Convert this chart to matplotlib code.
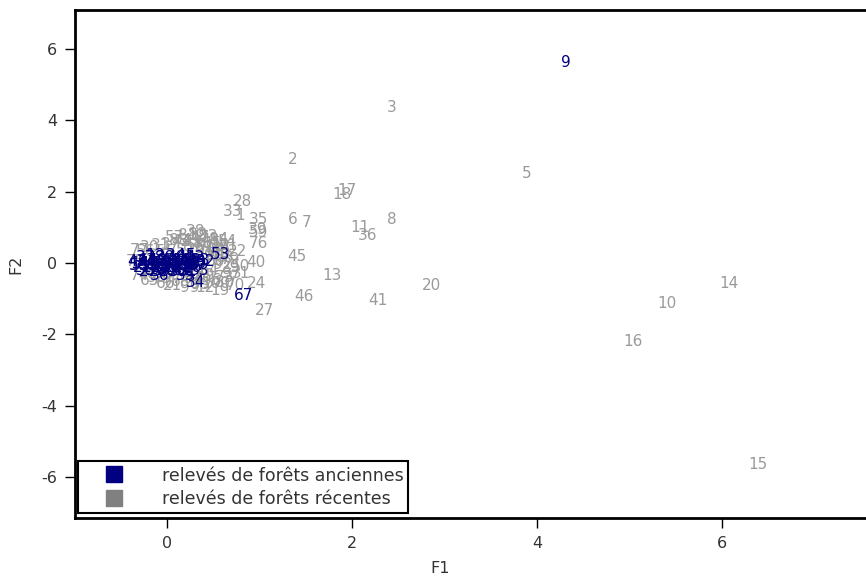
import matplotlib
matplotlib.use("Agg")
import matplotlib.pyplot as plt
from matplotlib.lines import Line2D

plt.rcParams['font.family'] = ['DejaVu Sans']
plt.rcParams['axes.unicode_minus'] = False

# relevés de forêts récentes (grey)
rec_lab = ['3', '2', '5', '18', '17', '28', '33', '1', '35', '6', '7', '11', '36', '8',
           '39', '59', '76', '45', '40', '13', '20', '46', '41', '24', '27', '14', '10',
           '16', '15', '38', '22', '54', '21', '50', '73', '19', '12', '29',
           '30', '31', '37', '42', '43', '47', '48', '49', '51', '52', '55', '56', '57',
           '58', '60', '61', '62', '63', '64', '65', '66', '68', '69', '70', '71', '72',
           '74', '75', '77', '78', '79', '80',
           '81', '82', '83', '84', '85', '86', '87', '88', '89', '90', '91', '92', '93',
           '94', '95', '96', '97', '98', '99', '100']
rec_x = [2.43, 1.36, 3.89, 1.89, 1.94, 0.81, 0.70, 0.79, 0.98, 1.36, 1.51, 2.08, 2.17, 2.43,
         0.98, 0.99, 0.98, 1.40, 0.96, 1.78, 2.86, 1.48, 2.28, 0.96, 1.05, 6.07, 5.40,
         5.04, 6.39, 0.30, 0.76, 0.65, 0.05, 0.79, 0.62, 0.57, 0.41, 0.68,
         -0.19, -0.08, 0.03, 0.14, 0.25, 0.35, 0.46, 0.57, 0.41, 0.19, -0.02, -0.24, 0.08,
         0.30, 0.52, 0.66, 0.52, 0.62, 0.46, -0.19, -0.02, 0.14, 0.41, 0.73, 0.79, 0.30,
         -0.30, -0.35, -0.30, 0.57, 0.68, 0.62,
         0.22, 0.33, 0.44, 0.55, 0.48, 0.38, 0.27, 0.12, 0.58, 0.50, 0.40, 0.60, 0.70,
         0.28, 0.36, 0.48, 0.05, -0.12, 0.24, 0.52]
rec_y = [4.35, 2.89, 2.50, 1.91, 2.02, 1.71, 1.43, 1.32, 1.21, 1.23, 1.12, 0.98, 0.76, 1.21,
         0.95, 0.84, 0.55, 0.17, 0.00, -0.36, -0.62, -0.93, -1.04, -0.59, -1.32, -0.59, -1.15,
         -2.19, -5.66, 0.87, 0.31, 0.59, -0.62, -0.10, -0.42, -0.76, -0.70, -0.14,
         0.42, 0.48, 0.53, 0.59, 0.64, 0.70, 0.64, 0.50, 0.42, 0.36, 0.31, 0.31, 0.70,
         0.50, 0.03, 0.48, 0.36, 0.14, -0.20, -0.48, -0.59, -0.53, -0.35, -0.64, -0.31, -0.36,
         -0.36, 0.03, 0.36, 0.20, 0.10, -0.55,
         0.78, 0.80, 0.75, 0.66, 0.55, 0.55, 0.45, 0.62, 0.30, 0.22, 0.28, -0.05, -0.30,
         -0.45, -0.60, -0.50, -0.45, -0.40, -0.70, -0.58]

# relevés de forêts anciennes (navy)
anc_lab = ['9', '53', '34', '67',
           '1', '2', '3', '4', '5', '6', '7', '8', '10', '11', '12', '13', '14', '15',
           '16', '17', '18', '19', '20', '21', '22', '23', '24', '25', '26', '27', '28',
           '29', '30', '31', '32', '33', '35', '36',
           '37', '38', '39', '40', '41', '42', '43', '44', '45', '46', '47', '48', '49',
           '50', '51', '52', '54', '55', '56', '57', '58', '59', '60', '61', '62']
anc_x = [4.31, 0.58, 0.30, 0.82,
         -0.19, -0.08, 0.03, 0.14, 0.25,
         -0.27, -0.17, -0.06, 0.05, 0.16, 0.27, 0.35,
         -0.30, -0.19, -0.08, 0.03, 0.14, 0.25, 0.33,
         -0.27, -0.17, -0.06, 0.05, 0.16, 0.27,
         -0.21, -0.10, 0.01, 0.12, 0.22,
         0.41, 0.35, 0.19, -0.08,
         -0.24, -0.13, -0.02, 0.09, 0.20, 0.30,
         -0.33, -0.22, -0.11, 0.00, 0.11, 0.22, 0.31,
         -0.31, -0.20, -0.09, 0.02, 0.13, 0.24, 0.32,
         -0.24, -0.13, -0.02, 0.09, 0.20]
anc_y = [5.61, 0.25, -0.56, -0.90,
         0.20, 0.20, 0.20, 0.20, 0.20,
         0.08, 0.08, 0.08, 0.08, 0.08, 0.08, 0.08,
         -0.03, -0.03, -0.03, -0.03, -0.03, -0.03, -0.03,
         -0.14, -0.14, -0.14, -0.14, -0.14, -0.14,
         -0.25, -0.25, -0.25, -0.25, -0.25,
         0.03, -0.20, -0.36, -0.36,
         0.14, 0.14, 0.14, 0.14, 0.14, 0.14,
         0.03, 0.03, 0.03, 0.03, 0.03, 0.03, 0.03,
         -0.08, -0.08, -0.08, -0.08, -0.08, -0.08, -0.08,
         -0.20, -0.20, -0.20, -0.20, -0.20]

GREY = '#9a9a9a'
NAVY = '#000080'
DARK = '#333333'

fig = plt.figure(figsize=(8.66, 5.8), dpi=100)
ax = fig.add_axes([75 / 866, 62 / 580, 795 / 866, 508 / 580])

for x, y, s in zip(rec_x, rec_y, rec_lab):
    ax.text(x, y, s, color=GREY, fontsize=11, ha='center', va='center')
for x, y, s in zip(anc_x, anc_y, anc_lab):
    ax.text(x, y, s, color=NAVY, fontsize=11, ha='center', va='center')

ax.set_xlim(-1.0, 7.6)
ax.set_ylim(-7.15, 7.09)
ax.set_xticks([0, 2, 4, 6])
ax.set_yticks([-6, -4, -2, 0, 2, 4, 6])
ax.tick_params(direction='out', length=7, width=1, labelsize=11.5,
               labelcolor=DARK, pad=6)
for sp in ax.spines.values():
    sp.set_linewidth(2)

ax.set_xlabel('F1', fontsize=11.5, color=DARK)
ax.set_ylabel('F2', fontsize=11.5, color=DARK)
ax.xaxis.set_label_coords(0.459, -0.085)
ax.yaxis.set_label_coords(-0.065, 0.5)

handles = [Line2D([], [], ls='none', marker='s', markersize=12, color=NAVY),
           Line2D([], [], ls='none', marker='s', markersize=12, color='#808080')]
leg = ax.legend(handles, ['relevés de forêts anciennes', 'relevés de forêts récentes'],
                loc='lower left', bbox_to_anchor=(0.004, 0.01), borderaxespad=0,
                fontsize=12.5, handlelength=3.5, handletextpad=1.0, labelspacing=0.3,
                borderpad=0.3, fancybox=False, framealpha=1, labelcolor=DARK)
leg.get_frame().set_edgecolor('black')
leg.get_frame().set_linewidth(1.5)

fig.savefig('out.png', dpi=100)
